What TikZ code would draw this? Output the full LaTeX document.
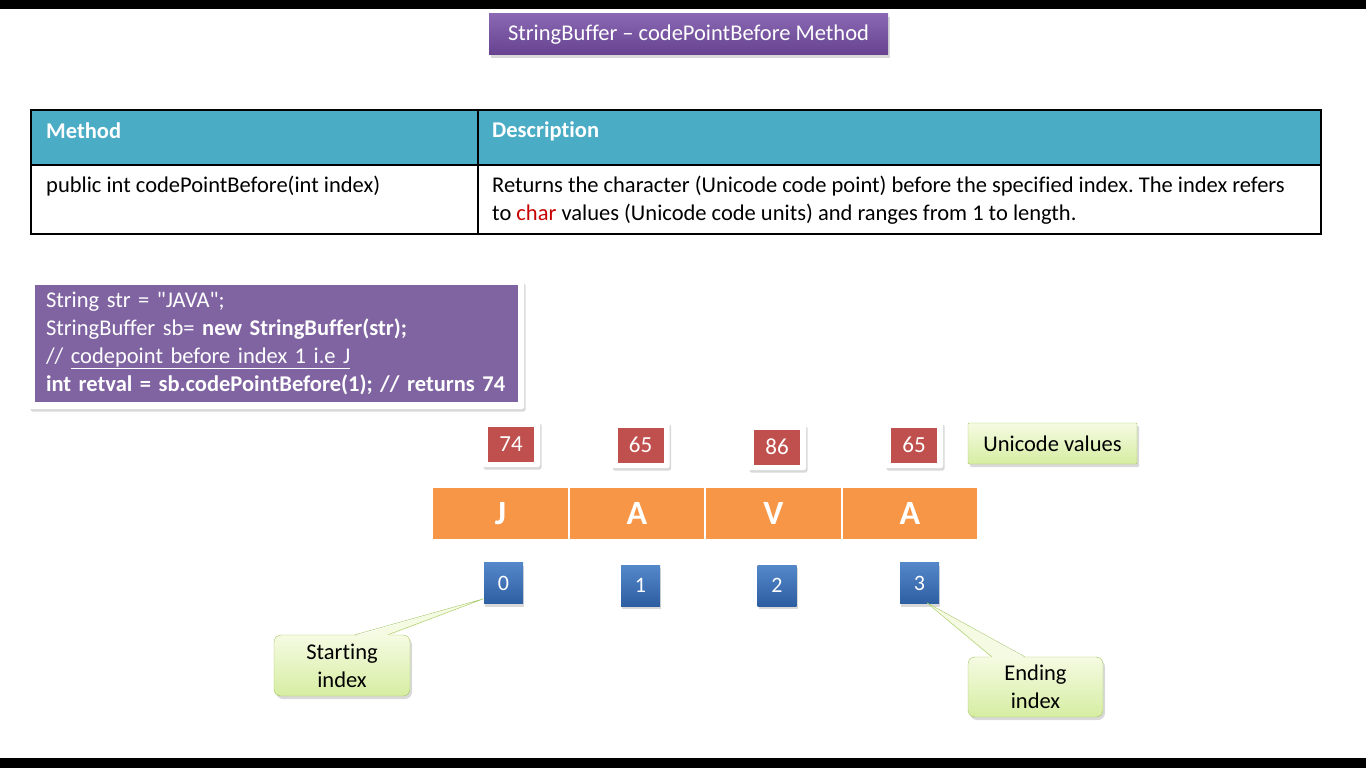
\documentclass[tikz,border=0pt]{standalone}
\usepackage{fontspec}
\setmainfont{Carlito}[Ligatures={TeXOff,CommonOff}]
\usetikzlibrary{positioning,calc,shadows}
\frenchspacing
\definecolor{sbPurple}{RGB}{128,100,162}
\definecolor{sbTitleTop}{RGB}{138,104,178}
\definecolor{sbTitleBot}{RGB}{102,66,144}
\definecolor{sbTeal}{RGB}{75,172,198}
\definecolor{sbRed}{RGB}{192,80,77}
\definecolor{sbOrange}{RGB}{247,150,70}
\definecolor{sbBlueTop}{RGB}{84,136,202}
\definecolor{sbBlueBot}{RGB}{46,94,162}
\definecolor{sbGreenTop}{RGB}{245,251,226}
\definecolor{sbGreenBot}{RGB}{214,237,162}
\definecolor{sbGreenLine}{RGB}{162,198,98}
\definecolor{sbChar}{RGB}{200,0,0}
\tikzset{
    base/.style={font=\fontsize{22.5}{28}\selectfont, align=center, inner sep=0pt},
    headbox/.style={base, rectangle, top color=sbTitleTop, bottom color=sbTitleBot,
                    text=white, minimum width=399pt, minimum height=41pt,
                    drop shadow={opacity=0.3, shadow xshift=2pt, shadow yshift=-3pt}},
    cell/.style={base, anchor=west, align=left, text=black},
    hcell/.style={cell, text=white, font=\fontsize{22.5}{28}\selectfont\bfseries},
    codebox/.style={base, rectangle, fill=sbPurple, text=white, align=left,
                    inner xsep=11pt, text width=461pt, minimum height=117pt},
    frame/.style={rectangle, fill=white, rounded corners=2pt,
                  drop shadow={opacity=0.3, shadow xshift=1.5pt, shadow yshift=-2.5pt}},
    valbox/.style={base, rectangle, fill=sbRed, text=white,
                   font=\fontsize{23}{23}\selectfont, minimum width=46pt, minimum height=35pt},
    charcell/.style={base, rectangle, fill=sbOrange, text=white,
                     font=\fontsize{34}{34}\selectfont\bfseries,
                     minimum width=134.5pt, minimum height=51pt},
    idxbox/.style={base, rectangle, top color=sbBlueTop, bottom color=sbBlueBot, text=white,
                   font=\fontsize{22}{22}\selectfont, minimum width=39pt, minimum height=41pt,
                   drop shadow={opacity=0.3, shadow xshift=1pt, shadow yshift=-3pt}},
    note/.style={base, rectangle, rounded corners=7pt, draw=sbGreenLine, thin,
                 top color=sbGreenTop, bottom color=sbGreenBot, text=black,
                 drop shadow={opacity=0.3, shadow xshift=2pt, shadow yshift=-3pt}},
    pointer/.style={draw=sbGreenLine, thin}
}

\begin{document}
\begin{tikzpicture}[x=1pt, y=-1pt]
  \useasboundingbox (0,0) rectangle (1366,768);
  \fill[black] (0,0) rectangle (1366,9);
  \fill[black] (0,758) rectangle (1366,768);

  % Title
  \node[headbox] (title) at (688.5,34.5) {StringBuffer – codePointBefore Method};

  % Method table
  \fill[sbTeal] (31,110) rectangle (1321,165);
  \draw[black, line width=2pt] (31,110) rectangle (1321,234);
  \draw[black, line width=1.5pt] (31,165) -- (1321,165);
  \draw[black, line width=1.5pt] (478,110) -- (478,234);
  \node[hcell] (hMethod) at (46,131) {Method};
  \node[hcell] (hDesc) at (492,131) {Description};
  \node[cell] (sig) at (46,186) {public int codePointBefore(int index)};
  \node[cell] (desc) at (492,200) {Returns the character (Unicode code point) before the specified index. The index refers\\
    to \textcolor{sbChar}{char} values (Unicode code units) and ranges from 1 to length.};

  % Code sample
  \node[frame, minimum width=495pt, minimum height=128pt] (codeFrame) at (276.5,345) {};
  \node[codebox] (code) at (276.5,343.5) {String str = "JAVA";\\
    StringBuffer sb= \textbf{new StringBuffer(str);}\\
    // \underline{codepoint before index 1 i.e J}\\
    \textbf{int retval = sb.codePointBefore(1); // returns 74}};

  % Unicode values
  \foreach \v/\x/\y [count=\i from 0] in {74/511/444, 65/640.5/445, 86/777/447, 65/914/445} {
    \node[frame, minimum width=58pt, minimum height=46pt] (valFrame\i) at (\x,\y) {};
    \node[valbox] (val\i) at (\x,\y) {\v};
  }
  \node[note, rounded corners=1pt, minimum width=169pt, minimum height=41pt] (uniNote)
    at (1052.5,443.5) {Unicode values};

  % Characters of the buffer
  \foreach \c [count=\i from 0] in {J,A,V,A} {
    \node[charcell] (chr\i) at (500.5+136.5*\i,513.5) {\c};
  }

  % Indexes
  \foreach \x/\y [count=\i from 0] in {503.5/583, 640.5/585.5, 777/585.5, 919.5/583} {
    \node[idxbox] (idx\i) at (\x,\y) {\i};
  }

  % Callouts
  \node[note, minimum width=136pt, minimum height=61pt] (startNote) at (342,665.5) {Starting\\index};
  \node[note, minimum width=135pt, minimum height=60pt] (endNote) at (1035.5,687) {Ending\\index};
  \coordinate (tipS) at ($(idx0.south west)+(0,-5)$);
  \coordinate (tipE) at ($(idx3.south west)+(27,-1)$);
  \fill[sbGreenTop] ($(startNote.north west)+(81,1.5)$) -- (tipS) -- ($(startNote.north west)+(114,1.5)$) -- cycle;
  \draw[pointer] ($(startNote.north west)+(81,0)$) -- (tipS) -- ($(startNote.north west)+(114,0)$);
  \fill[sbGreenTop] ($(endNote.north west)+(24,1.5)$) -- (tipE) -- ($(endNote.north west)+(57,1.5)$) -- cycle;
  \draw[pointer] ($(endNote.north west)+(24,0)$) -- (tipE) -- ($(endNote.north west)+(57,0)$);
\end{tikzpicture}
\end{document}
